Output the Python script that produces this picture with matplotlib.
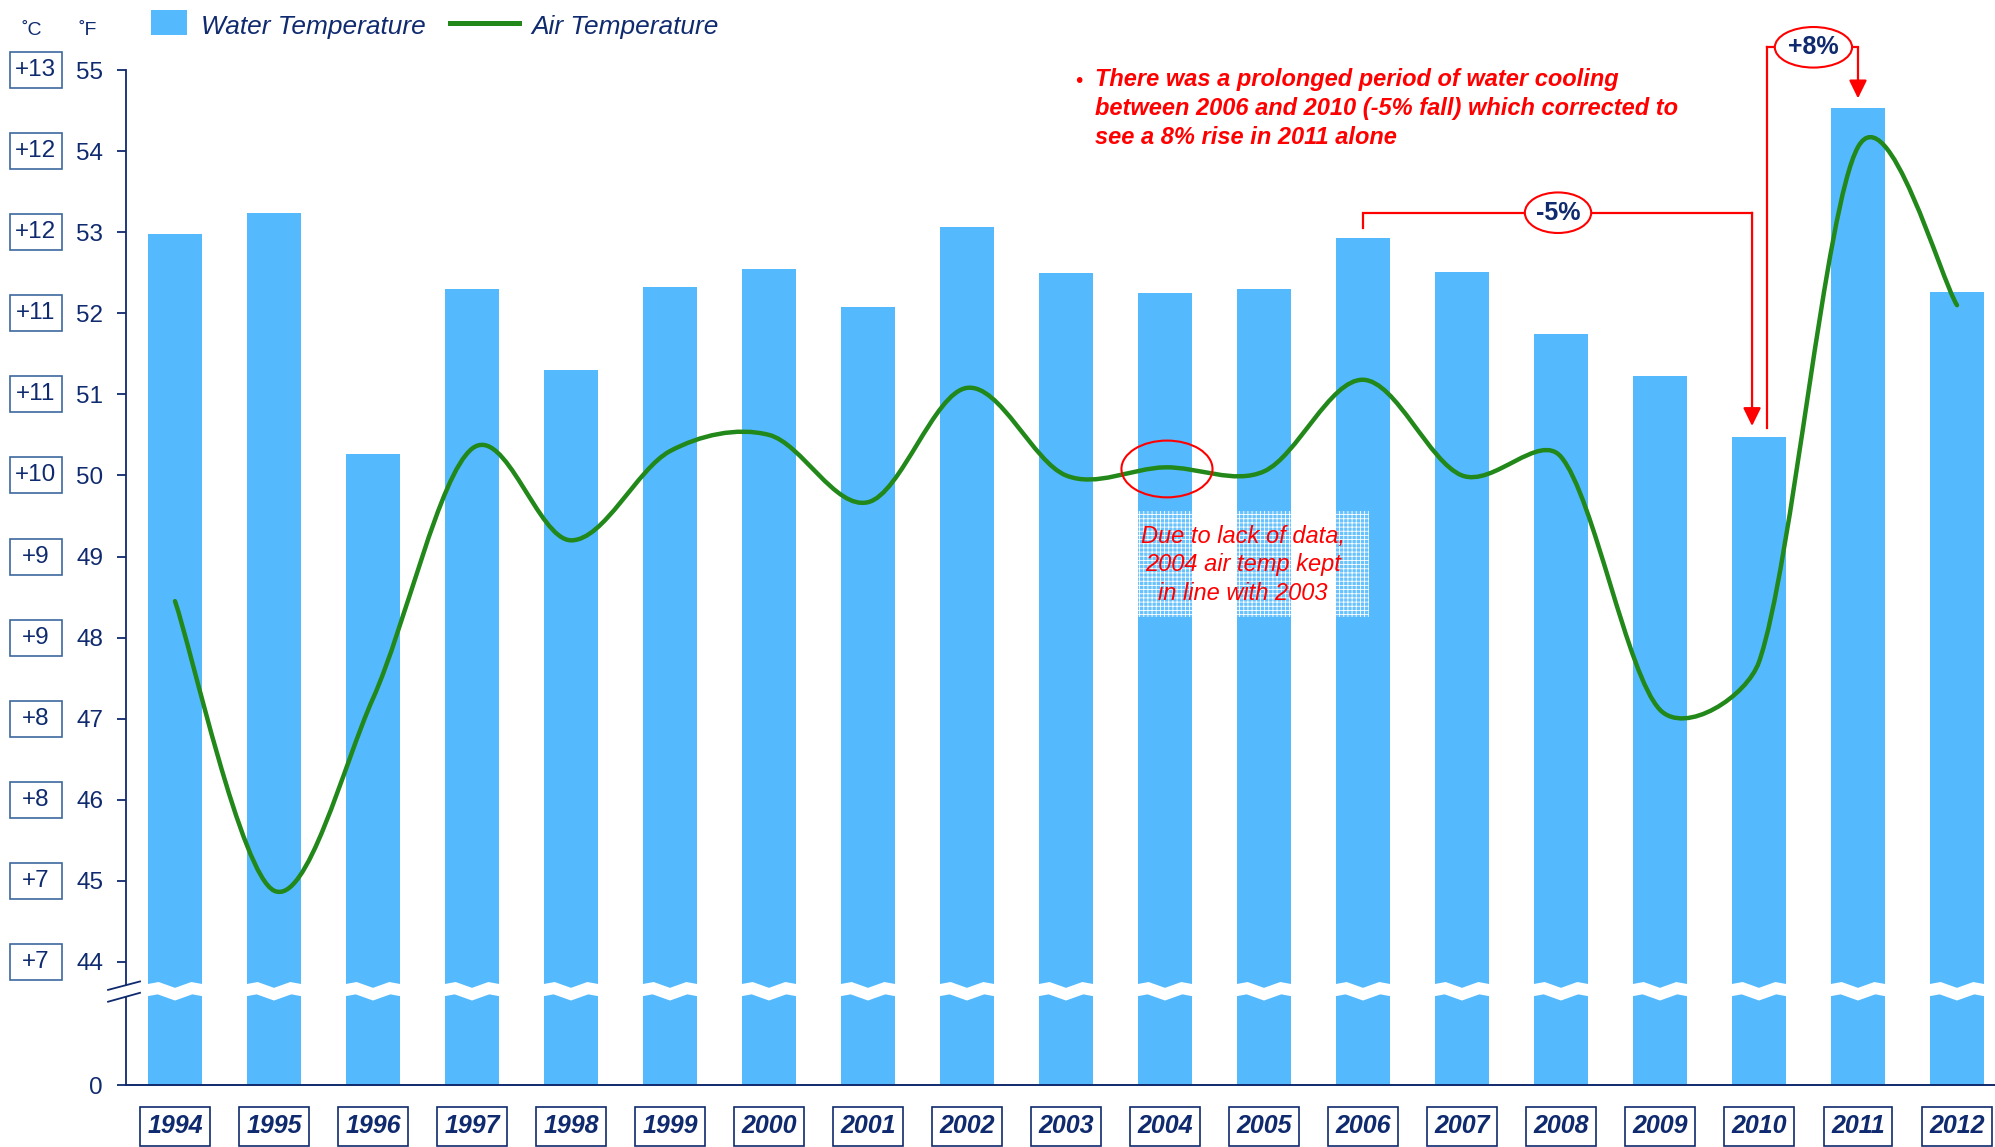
import numpy as np
import matplotlib
matplotlib.use('Agg')
import matplotlib.pyplot as plt
from matplotlib.patches import Ellipse, Rectangle, PathPatch
from matplotlib.path import Path
from matplotlib.lines import Line2D
from matplotlib.transforms import blended_transform_factory

YEARS = ['1994', '1995', '1996', '1997', '1998', '1999', '2000', '2001',
         '2002', '2003', '2004', '2005', '2006', '2007', '2008', '2009',
         '2010', '2011', '2012']
WATER_F = [52.98, 53.24, 50.26, 52.30, 51.30, 52.33, 52.54, 52.08, 53.07,
           52.50, 52.25, 52.30, 52.93, 52.51, 51.74, 51.23, 50.47, 54.53,
           52.26]
AIR_F = [48.45, 44.88, 47.25, 50.33, 49.20, 50.30, 50.50, 49.67, 51.08,
         50.00, 50.10, 50.05, 51.18, 50.00, 50.23, 47.11, 47.70, 54.05,
         52.10]
F_TICKS = [44, 45, 46, 47, 48, 49, 50, 51, 52, 53, 54, 55]
C_LABELS = ['+7', '+7', '+8', '+8', '+9', '+9', '+10', '+11', '+11',
            '+12', '+12', '+13']

BLUE = '#54BAFD'
GREEN = '#22881A'
NAVY = '#0F2A6E'
BOXBLUE = '#3C68A0'
RED = '#FF0000'

JOIN = 43.3     # below this the axis is squeezed (broken axis)
LOW = 42.483    # where 0 F ends up on the squeezed part
BREAK = 43.64   # centre of the break mark

plt.rcParams['font.family'] = ['Liberation Sans', 'DejaVu Sans']
plt.rcParams['hatch.linewidth'] = 0.6


def forward(y):
    y = np.asarray(y, dtype=float)
    return np.where(y >= JOIN, y, LOW + y * (JOIN - LOW) / JOIN)


def inverse(v):
    v = np.asarray(v, dtype=float)
    return np.where(v >= JOIN, v, (v - LOW) * JOIN / (JOIN - LOW))


def smooth_path(ax, xs, ys):
    """
    smoothed line through the points: catmull-rom style bezier,
    control arms capped at a third of the segment (on screen)
    so short segments next to steep ones do not overshoot
    """
    pts = ax.transData.transform(np.column_stack([xs, ys]))
    n = len(pts)
    span = [pts[min(i + 1, n - 1)] - pts[max(i - 1, 0)] for i in range(n)]
    verts = [pts[0]]
    codes = [Path.MOVETO]
    for i in range(n - 1):
        seg = np.hypot(*(pts[i + 1] - pts[i])) / 3
        arms = []
        for j in (i, i + 1):
            size = np.hypot(*span[j])
            arms.append(span[j] / size * min(size / 6, seg))
        verts += [pts[i] + arms[0], pts[i + 1] - arms[1], pts[i + 1]]
        codes += [Path.CURVE4] * 3
    return Path(ax.transData.inverted().transform(np.array(verts)), codes)


def bracket(ax, pts, tip):
    """
    red connector line ending in an arrow head
    """
    xs, ys = zip(*pts)
    ax.plot(xs, ys, color=RED, lw=1.6, zorder=5, clip_on=False,
            solid_joinstyle='miter')
    ax.annotate('', xy=tip, xytext=pts[-1],
                arrowprops=dict(arrowstyle='-|>,head_length=0.55,head_width=0.27',
                                color=RED, lw=1.6, shrinkA=0, shrinkB=0,
                                mutation_scale=20),
                zorder=5, annotation_clip=False)


def badge(ax, x, y, w, h, label):
    ax.add_patch(Ellipse((x, y), w, h, facecolor='white', edgecolor=RED,
                         lw=1.5, zorder=6, clip_on=False))
    ax.text(x, y, label, ha='center', va='center', fontsize=18,
            fontweight='bold', color=NAVY, zorder=7, clip_on=False)


fig = plt.figure(figsize=(19.95, 11.47), dpi=100)
ax = fig.add_axes([0.06316, 0.05405, 0.93684, 0.88492])
ax.set_yscale('function', functions=(forward, inverse))
ax.set_xlim(-0.495, 18.384)
ax.set_ylim(0, 55)

x = np.arange(len(YEARS))
ax.bar(x, WATER_F, width=0.545, color=BLUE, zorder=2)
ax.add_patch(PathPatch(smooth_path(ax, x, AIR_F), fill=False,
                       edgecolor=GREEN, lw=3.2, capstyle='round',
                       joinstyle='round', zorder=4))

ax.set_yticks([0] + F_TICKS)
ax.set_yticklabels(['0'] + [str(v) for v in F_TICKS])
ax.set_xticks(x)
ax.set_xticklabels(YEARS)
ax.yaxis.set_minor_locator(plt.NullLocator())
ax.tick_params(axis='y', length=6.5, width=1.3, color=NAVY, labelcolor=NAVY,
               labelsize=17.5, pad=10)
ax.tick_params(axis='x', length=0, labelcolor=NAVY, labelsize=18, pad=21)
for lbl in ax.get_xticklabels():
    lbl.set_fontweight('bold')
    lbl.set_fontstyle('italic')
    lbl.set_bbox(dict(boxstyle='square,pad=0.3', facecolor='white',
                      edgecolor=NAVY, lw=1.2))

for side in ('top', 'right', 'left'):
    ax.spines[side].set_visible(False)
ax.spines['bottom'].set_color(NAVY)
ax.spines['bottom'].set_linewidth(1.4)

# broken axis: white wave across the bars and split spine
wave_x, wave_y = [], []
for i in x:
    for dx, dy in ((-0.5, -1), (-0.17, 1), (0.0, -1), (0.17, 1)):
        wave_x.append(i + dx)
        wave_y.append(BREAK + dy * 0.037)
wave_x.append(x[-1] + 0.5)
wave_y.append(BREAK - 0.037)
ax.plot(wave_x, wave_y, color='white', lw=8.6, zorder=3,
        solid_joinstyle='miter')

yax = blended_transform_factory(ax.transAxes, ax.transData)
ax.plot([0, 0], [0, 43.57], color=NAVY, lw=1.3, transform=yax,
        clip_on=False, zorder=6)
ax.plot([0, 0], [43.72, 55], color=NAVY, lw=1.3, transform=yax,
        clip_on=False, zorder=6)
for y0, y1 in ((43.656, 43.76), (43.51, 43.62)):
    ax.plot([-0.0096, 0.0075], [y0, y1], color=NAVY, lw=1.3,
            transform=yax, clip_on=False, zorder=6)

# celsius boxes, all the same size
for f, c in zip(F_TICKS, C_LABELS):
    ax.add_patch(Rectangle((-0.0621, f - 0.222), 0.0279, 0.444,
                           transform=yax, facecolor='white',
                           edgecolor=BOXBLUE, lw=1.2, clip_on=False))
    ax.text(-0.0482, f, c, transform=yax, ha='center', va='center',
            fontsize=17.5, color=NAVY, clip_on=False)

# 2004 note
ax.add_patch(Ellipse((10.02, 50.08), 0.92, 0.70, facecolor='none',
                     edgecolor=RED, lw=1.5, zorder=5))
ax.add_patch(Rectangle((9.73, 48.26), 2.33, 1.30, facecolor=(1, 1, 1, 0.12),
                       edgecolor='white', lw=0, hatch='++++', zorder=3))
ax.text(10.79, 48.90, 'Due to lack of data,\n2004 air temp kept\nin line with 2003',
        ha='center', va='center', fontsize=17, fontstyle='italic',
        color=RED, zorder=6, linespacing=1.3)

# -5% bracket from 2006 to 2010
i06, i10, i11 = YEARS.index('2006'), YEARS.index('2010'), YEARS.index('2011')
top5 = 53.24
bracket(ax, [(i06, WATER_F[i06] + 0.12), (i06, top5), (i10 - 0.07, top5)],
        (i10 - 0.07, WATER_F[i10] + 0.14))
badge(ax, 13.97, top5, 0.67, 0.50, '-5%')

# +8% bracket from 2010 to 2011
top8 = 55.28
ax.plot([i10 + 0.08, i10 + 0.08], [WATER_F[i10] + 0.12, top8], color=RED,
        lw=1.6, zorder=5, clip_on=False)
bracket(ax, [(i10 + 0.08, top8), (i11, top8)], (i11, WATER_F[i11] + 0.12))
badge(ax, 16.55, top8, 0.78, 0.50, '+8%')

# main comment (va='baseline' sits on the last line)
ax.text(9.13, 54.79, '\u2022', ha='center', va='baseline', fontsize=15,
        color=RED, clip_on=False)
ax.text(9.29, 54.09,
        'There was a prolonged period of water cooling\n'
        'between 2006 and 2010 (-5% fall) which corrected to\n'
        'see a 8% rise in 2011 alone',
        ha='left', va='baseline', fontsize=17, fontweight='bold',
        fontstyle='italic', color=RED, linespacing=1.32, clip_on=False)

# header: units and legend
fig.text(32 / 1995, 0.9695, '\u02daC', ha='center', va='baseline',
         fontsize=14, color=NAVY)
fig.text(88 / 1995, 0.9695, '\u02daF', ha='center', va='baseline',
         fontsize=14, color=NAVY)
fig.add_artist(Rectangle((0.0757, 0.9695), 0.0180, 0.0218, facecolor=BLUE,
                         edgecolor='none', transform=fig.transFigure))
fig.text(0.1008, 0.9704, 'Water Temperature', ha='left', va='baseline',
         fontsize=18.9, fontstyle='italic', color=NAVY)
fig.add_artist(Line2D([0.2256, 0.2602], [0.980, 0.980], color=GREEN, lw=3.6,
                      transform=fig.transFigure))
fig.text(0.2662, 0.9704, 'Air Temperature', ha='left', va='baseline',
         fontsize=18.9, fontstyle='italic', color=NAVY)

fig.savefig('out.png', dpi=100)
